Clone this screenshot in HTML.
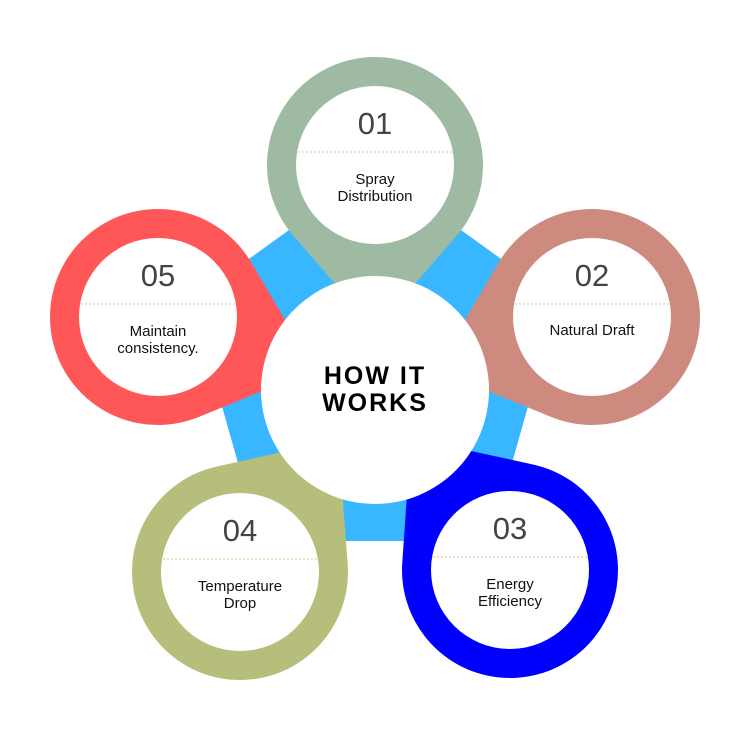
<!DOCTYPE html>
<html><head><style>
html,body{margin:0;padding:0;background:#fff;}
svg{display:block;}
text{font-family:"Liberation Sans",sans-serif;}
</style></head><body>
<svg id="s" width="750" height="750" viewBox="0 0 750 750">
<polygon points="375,168 558,300 490,541 260,541 192,300" fill="#38b6ff"/>
<g id="rings"></g>
<circle cx="375" cy="390" r="114" fill="#fff"/>
<text x="375" y="384" text-anchor="middle" font-size="25" font-weight="bold" letter-spacing="2" fill="#000">HOW IT</text>
<text x="375" y="411" text-anchor="middle" font-size="25" font-weight="bold" letter-spacing="2" fill="#000">WORKS</text>
<g id="labels"></g>
</svg>
<script>
var R=[
 {c:[375,165],col:"#9fbaa3",n:"01",t:["Spray","Distribution"]},
 {c:[592,317],col:"#cd8b80",n:"02",t:["Natural Draft"]},
 {c:[510,570],col:"#0000ff",n:"03",t:["Energy","Efficiency"]},
 {c:[240,572],col:"#b7bd7a",n:"04",t:["Temperature","Drop"]},
 {c:[158,317],col:"#ff5757",n:"05",t:["Maintain","consistency."]}
];
var ns="http://www.w3.org/2000/svg",g=document.getElementById("rings"),L=document.getElementById("labels");
function el(p,n,a,txt){var e=document.createElementNS(ns,n);for(var k in a)e.setAttribute(k,a[k]);if(txt)e.textContent=txt;p.appendChild(e);return e;}
R.forEach(function(o){
 var cx=o.c[0],cy=o.c[1],r=108,d=165;
 var dx=375-cx,dy=390-cy,l=Math.hypot(dx,dy);dx/=l;dy/=l;
 var tx=cx+dx*d,ty=cy+dy*d,a0=Math.atan2(dy,dx),b=Math.acos(r/d);
 var p1=[cx+r*Math.cos(a0+b),cy+r*Math.sin(a0+b)],p2=[cx+r*Math.cos(a0-b),cy+r*Math.sin(a0-b)];
 el(g,"path",{d:"M"+tx+" "+ty+" L"+p1[0]+" "+p1[1]+" A"+r+" "+r+" 0 1 1 "+p2[0]+" "+p2[1]+" Z",fill:o.col});
 el(L,"circle",{cx:cx,cy:cy,r:79,fill:"#fff"});
 el(L,"text",{x:cx,y:cy-31,"text-anchor":"middle","font-size":"31",fill:"#444"},o.n);
 el(L,"line",{x1:cx-77,y1:cy-13,x2:cx+77,y2:cy-13,stroke:"#e0c08e","stroke-width":"1","stroke-dasharray":"2,2"});
 if(o.t.length==1){el(L,"text",{x:cx,y:cy+18,"text-anchor":"middle","font-size":"15",fill:"#111"},o.t[0]);}
 else{el(L,"text",{x:cx,y:cy+19,"text-anchor":"middle","font-size":"15",fill:"#111"},o.t[0]);
 el(L,"text",{x:cx,y:cy+36,"text-anchor":"middle","font-size":"15",fill:"#111"},o.t[1]);}
});
</script>
</body></html>
